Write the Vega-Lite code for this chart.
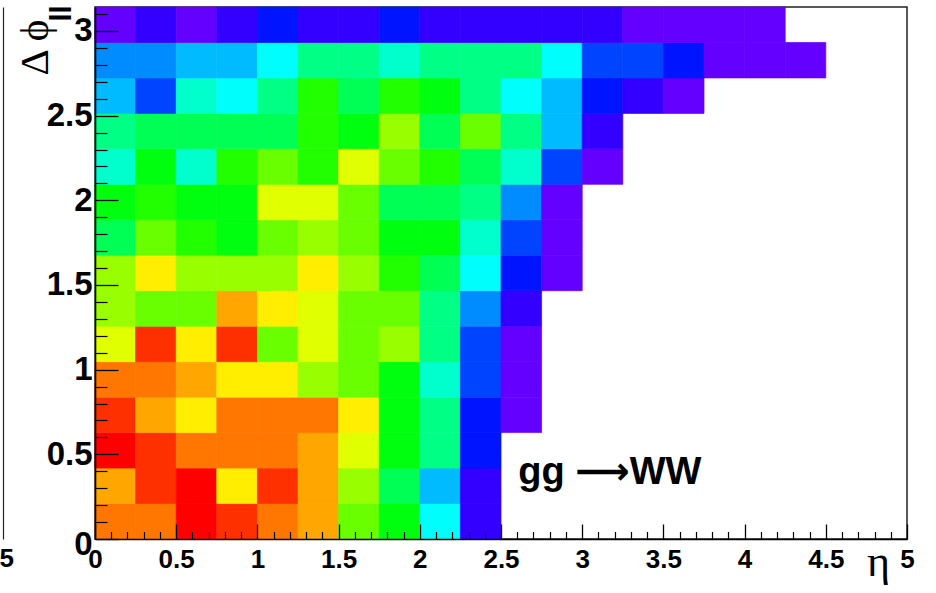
{
  "$schema": "https://vega.github.io/schema/vega-lite/v6.json",
  "width": 812,
  "height": 532,
  "autosize": "none",
  "padding": {"left": 95, "top": 7, "right": 29, "bottom": 54},
  "background": "white",
  "config": {"view": {"stroke": "#222", "strokeWidth": 1.5}, "axis": {"grid": false, "zindex": 1}},
  "datasets": {
    "cells": [
      {"eta":0,"eta2":0.25,"dphi":0,"dphi2":0.2094,"z":17},
      {"eta":0.25,"eta2":0.5,"dphi":0,"dphi2":0.2094,"z":17},
      {"eta":0.5,"eta2":0.75,"dphi":0,"dphi2":0.2094,"z":19},
      {"eta":0.75,"eta2":1,"dphi":0,"dphi2":0.2094,"z":18},
      {"eta":1,"eta2":1.25,"dphi":0,"dphi2":0.2094,"z":17},
      {"eta":1.25,"eta2":1.5,"dphi":0,"dphi2":0.2094,"z":16},
      {"eta":1.5,"eta2":1.75,"dphi":0,"dphi2":0.2094,"z":12},
      {"eta":1.75,"eta2":2,"dphi":0,"dphi2":0.2094,"z":10},
      {"eta":2,"eta2":2.25,"dphi":0,"dphi2":0.2094,"z":6},
      {"eta":2.25,"eta2":2.5,"dphi":0,"dphi2":0.2094,"z":1},

      {"eta":0,"eta2":0.25,"dphi":0.2094,"dphi2":0.4189,"z":16},
      {"eta":0.25,"eta2":0.5,"dphi":0.2094,"dphi2":0.4189,"z":18},
      {"eta":0.5,"eta2":0.75,"dphi":0.2094,"dphi2":0.4189,"z":19},
      {"eta":0.75,"eta2":1,"dphi":0.2094,"dphi2":0.4189,"z":15},
      {"eta":1,"eta2":1.25,"dphi":0.2094,"dphi2":0.4189,"z":18},
      {"eta":1.25,"eta2":1.5,"dphi":0.2094,"dphi2":0.4189,"z":16},
      {"eta":1.5,"eta2":1.75,"dphi":0.2094,"dphi2":0.4189,"z":13},
      {"eta":1.75,"eta2":2,"dphi":0.2094,"dphi2":0.4189,"z":9},
      {"eta":2,"eta2":2.25,"dphi":0.2094,"dphi2":0.4189,"z":5},
      {"eta":2.25,"eta2":2.5,"dphi":0.2094,"dphi2":0.4189,"z":1},

      {"eta":0,"eta2":0.25,"dphi":0.4189,"dphi2":0.6283,"z":19},
      {"eta":0.25,"eta2":0.5,"dphi":0.4189,"dphi2":0.6283,"z":18},
      {"eta":0.5,"eta2":0.75,"dphi":0.4189,"dphi2":0.6283,"z":17},
      {"eta":0.75,"eta2":1,"dphi":0.4189,"dphi2":0.6283,"z":17},
      {"eta":1,"eta2":1.25,"dphi":0.4189,"dphi2":0.6283,"z":17},
      {"eta":1.25,"eta2":1.5,"dphi":0.4189,"dphi2":0.6283,"z":16},
      {"eta":1.5,"eta2":1.75,"dphi":0.4189,"dphi2":0.6283,"z":14},
      {"eta":1.75,"eta2":2,"dphi":0.4189,"dphi2":0.6283,"z":10},
      {"eta":2,"eta2":2.25,"dphi":0.4189,"dphi2":0.6283,"z":8},
      {"eta":2.25,"eta2":2.5,"dphi":0.4189,"dphi2":0.6283,"z":2},

      {"eta":0,"eta2":0.25,"dphi":0.6283,"dphi2":0.8378,"z":18},
      {"eta":0.25,"eta2":0.5,"dphi":0.6283,"dphi2":0.8378,"z":16},
      {"eta":0.5,"eta2":0.75,"dphi":0.6283,"dphi2":0.8378,"z":15},
      {"eta":0.75,"eta2":1,"dphi":0.6283,"dphi2":0.8378,"z":17},
      {"eta":1,"eta2":1.25,"dphi":0.6283,"dphi2":0.8378,"z":17},
      {"eta":1.25,"eta2":1.5,"dphi":0.6283,"dphi2":0.8378,"z":17},
      {"eta":1.5,"eta2":1.75,"dphi":0.6283,"dphi2":0.8378,"z":15},
      {"eta":1.75,"eta2":2,"dphi":0.6283,"dphi2":0.8378,"z":10},
      {"eta":2,"eta2":2.25,"dphi":0.6283,"dphi2":0.8378,"z":8},
      {"eta":2.25,"eta2":2.5,"dphi":0.6283,"dphi2":0.8378,"z":2},
      {"eta":2.5,"eta2":2.75,"dphi":0.6283,"dphi2":0.8378,"z":0},

      {"eta":0,"eta2":0.25,"dphi":0.8378,"dphi2":1.0472,"z":17},
      {"eta":0.25,"eta2":0.5,"dphi":0.8378,"dphi2":1.0472,"z":17},
      {"eta":0.5,"eta2":0.75,"dphi":0.8378,"dphi2":1.0472,"z":16},
      {"eta":0.75,"eta2":1,"dphi":0.8378,"dphi2":1.0472,"z":15},
      {"eta":1,"eta2":1.25,"dphi":0.8378,"dphi2":1.0472,"z":15},
      {"eta":1.25,"eta2":1.5,"dphi":0.8378,"dphi2":1.0472,"z":13},
      {"eta":1.5,"eta2":1.75,"dphi":0.8378,"dphi2":1.0472,"z":12},
      {"eta":1.75,"eta2":2,"dphi":0.8378,"dphi2":1.0472,"z":10},
      {"eta":2,"eta2":2.25,"dphi":0.8378,"dphi2":1.0472,"z":7},
      {"eta":2.25,"eta2":2.5,"dphi":0.8378,"dphi2":1.0472,"z":3},
      {"eta":2.5,"eta2":2.75,"dphi":0.8378,"dphi2":1.0472,"z":0},

      {"eta":0,"eta2":0.25,"dphi":1.0472,"dphi2":1.2566,"z":14},
      {"eta":0.25,"eta2":0.5,"dphi":1.0472,"dphi2":1.2566,"z":18},
      {"eta":0.5,"eta2":0.75,"dphi":1.0472,"dphi2":1.2566,"z":15},
      {"eta":0.75,"eta2":1,"dphi":1.0472,"dphi2":1.2566,"z":18},
      {"eta":1,"eta2":1.25,"dphi":1.0472,"dphi2":1.2566,"z":12},
      {"eta":1.25,"eta2":1.5,"dphi":1.0472,"dphi2":1.2566,"z":14},
      {"eta":1.5,"eta2":1.75,"dphi":1.0472,"dphi2":1.2566,"z":12},
      {"eta":1.75,"eta2":2,"dphi":1.0472,"dphi2":1.2566,"z":13},
      {"eta":2,"eta2":2.25,"dphi":1.0472,"dphi2":1.2566,"z":8},
      {"eta":2.25,"eta2":2.5,"dphi":1.0472,"dphi2":1.2566,"z":3},
      {"eta":2.5,"eta2":2.75,"dphi":1.0472,"dphi2":1.2566,"z":0},

      {"eta":0,"eta2":0.25,"dphi":1.2566,"dphi2":1.4661,"z":13},
      {"eta":0.25,"eta2":0.5,"dphi":1.2566,"dphi2":1.4661,"z":12},
      {"eta":0.5,"eta2":0.75,"dphi":1.2566,"dphi2":1.4661,"z":12},
      {"eta":0.75,"eta2":1,"dphi":1.2566,"dphi2":1.4661,"z":16},
      {"eta":1,"eta2":1.25,"dphi":1.2566,"dphi2":1.4661,"z":15},
      {"eta":1.25,"eta2":1.5,"dphi":1.2566,"dphi2":1.4661,"z":14},
      {"eta":1.5,"eta2":1.75,"dphi":1.2566,"dphi2":1.4661,"z":12},
      {"eta":1.75,"eta2":2,"dphi":1.2566,"dphi2":1.4661,"z":12},
      {"eta":2,"eta2":2.25,"dphi":1.2566,"dphi2":1.4661,"z":8},
      {"eta":2.25,"eta2":2.5,"dphi":1.2566,"dphi2":1.4661,"z":4},
      {"eta":2.5,"eta2":2.75,"dphi":1.2566,"dphi2":1.4661,"z":1},

      {"eta":0,"eta2":0.25,"dphi":1.4661,"dphi2":1.6755,"z":13},
      {"eta":0.25,"eta2":0.5,"dphi":1.4661,"dphi2":1.6755,"z":15},
      {"eta":0.5,"eta2":0.75,"dphi":1.4661,"dphi2":1.6755,"z":13},
      {"eta":0.75,"eta2":1,"dphi":1.4661,"dphi2":1.6755,"z":13},
      {"eta":1,"eta2":1.25,"dphi":1.4661,"dphi2":1.6755,"z":13},
      {"eta":1.25,"eta2":1.5,"dphi":1.4661,"dphi2":1.6755,"z":15},
      {"eta":1.5,"eta2":1.75,"dphi":1.4661,"dphi2":1.6755,"z":13},
      {"eta":1.75,"eta2":2,"dphi":1.4661,"dphi2":1.6755,"z":11},
      {"eta":2,"eta2":2.25,"dphi":1.4661,"dphi2":1.6755,"z":9},
      {"eta":2.25,"eta2":2.5,"dphi":1.4661,"dphi2":1.6755,"z":6},
      {"eta":2.5,"eta2":2.75,"dphi":1.4661,"dphi2":1.6755,"z":2},
      {"eta":2.75,"eta2":3,"dphi":1.4661,"dphi2":1.6755,"z":0},

      {"eta":0,"eta2":0.25,"dphi":1.6755,"dphi2":1.885,"z":9},
      {"eta":0.25,"eta2":0.5,"dphi":1.6755,"dphi2":1.885,"z":12},
      {"eta":0.5,"eta2":0.75,"dphi":1.6755,"dphi2":1.885,"z":11},
      {"eta":0.75,"eta2":1,"dphi":1.6755,"dphi2":1.885,"z":10},
      {"eta":1,"eta2":1.25,"dphi":1.6755,"dphi2":1.885,"z":12},
      {"eta":1.25,"eta2":1.5,"dphi":1.6755,"dphi2":1.885,"z":13},
      {"eta":1.5,"eta2":1.75,"dphi":1.6755,"dphi2":1.885,"z":12},
      {"eta":1.75,"eta2":2,"dphi":1.6755,"dphi2":1.885,"z":10},
      {"eta":2,"eta2":2.25,"dphi":1.6755,"dphi2":1.885,"z":10},
      {"eta":2.25,"eta2":2.5,"dphi":1.6755,"dphi2":1.885,"z":7},
      {"eta":2.5,"eta2":2.75,"dphi":1.6755,"dphi2":1.885,"z":3},
      {"eta":2.75,"eta2":3,"dphi":1.6755,"dphi2":1.885,"z":0},

      {"eta":0,"eta2":0.25,"dphi":1.885,"dphi2":2.0944,"z":10},
      {"eta":0.25,"eta2":0.5,"dphi":1.885,"dphi2":2.0944,"z":11},
      {"eta":0.5,"eta2":0.75,"dphi":1.885,"dphi2":2.0944,"z":10},
      {"eta":0.75,"eta2":1,"dphi":1.885,"dphi2":2.0944,"z":10},
      {"eta":1,"eta2":1.25,"dphi":1.885,"dphi2":2.0944,"z":14},
      {"eta":1.25,"eta2":1.5,"dphi":1.885,"dphi2":2.0944,"z":14},
      {"eta":1.5,"eta2":1.75,"dphi":1.885,"dphi2":2.0944,"z":12},
      {"eta":1.75,"eta2":2,"dphi":1.885,"dphi2":2.0944,"z":9},
      {"eta":2,"eta2":2.25,"dphi":1.885,"dphi2":2.0944,"z":9},
      {"eta":2.25,"eta2":2.5,"dphi":1.885,"dphi2":2.0944,"z":8},
      {"eta":2.5,"eta2":2.75,"dphi":1.885,"dphi2":2.0944,"z":4},
      {"eta":2.75,"eta2":3,"dphi":1.885,"dphi2":2.0944,"z":0},

      {"eta":0,"eta2":0.25,"dphi":2.0944,"dphi2":2.3038,"z":7},
      {"eta":0.25,"eta2":0.5,"dphi":2.0944,"dphi2":2.3038,"z":10},
      {"eta":0.5,"eta2":0.75,"dphi":2.0944,"dphi2":2.3038,"z":7},
      {"eta":0.75,"eta2":1,"dphi":2.0944,"dphi2":2.3038,"z":11},
      {"eta":1,"eta2":1.25,"dphi":2.0944,"dphi2":2.3038,"z":12},
      {"eta":1.25,"eta2":1.5,"dphi":2.0944,"dphi2":2.3038,"z":11},
      {"eta":1.5,"eta2":1.75,"dphi":2.0944,"dphi2":2.3038,"z":14},
      {"eta":1.75,"eta2":2,"dphi":2.0944,"dphi2":2.3038,"z":12},
      {"eta":2,"eta2":2.25,"dphi":2.0944,"dphi2":2.3038,"z":11},
      {"eta":2.25,"eta2":2.5,"dphi":2.0944,"dphi2":2.3038,"z":9},
      {"eta":2.5,"eta2":2.75,"dphi":2.0944,"dphi2":2.3038,"z":7},
      {"eta":2.75,"eta2":3,"dphi":2.0944,"dphi2":2.3038,"z":3},
      {"eta":3,"eta2":3.25,"dphi":2.0944,"dphi2":2.3038,"z":0},

      {"eta":0,"eta2":0.25,"dphi":2.3038,"dphi2":2.5133,"z":8},
      {"eta":0.25,"eta2":0.5,"dphi":2.3038,"dphi2":2.5133,"z":9},
      {"eta":0.5,"eta2":0.75,"dphi":2.3038,"dphi2":2.5133,"z":9},
      {"eta":0.75,"eta2":1,"dphi":2.3038,"dphi2":2.5133,"z":9},
      {"eta":1,"eta2":1.25,"dphi":2.3038,"dphi2":2.5133,"z":9},
      {"eta":1.25,"eta2":1.5,"dphi":2.3038,"dphi2":2.5133,"z":11},
      {"eta":1.5,"eta2":1.75,"dphi":2.3038,"dphi2":2.5133,"z":10},
      {"eta":1.75,"eta2":2,"dphi":2.3038,"dphi2":2.5133,"z":13},
      {"eta":2,"eta2":2.25,"dphi":2.3038,"dphi2":2.5133,"z":9},
      {"eta":2.25,"eta2":2.5,"dphi":2.3038,"dphi2":2.5133,"z":12},
      {"eta":2.5,"eta2":2.75,"dphi":2.3038,"dphi2":2.5133,"z":8},
      {"eta":2.75,"eta2":3,"dphi":2.3038,"dphi2":2.5133,"z":5},
      {"eta":3,"eta2":3.25,"dphi":2.3038,"dphi2":2.5133,"z":1},

      {"eta":0,"eta2":0.25,"dphi":2.5133,"dphi2":2.7227,"z":5},
      {"eta":0.25,"eta2":0.5,"dphi":2.5133,"dphi2":2.7227,"z":3},
      {"eta":0.5,"eta2":0.75,"dphi":2.5133,"dphi2":2.7227,"z":7},
      {"eta":0.75,"eta2":1,"dphi":2.5133,"dphi2":2.7227,"z":6},
      {"eta":1,"eta2":1.25,"dphi":2.5133,"dphi2":2.7227,"z":8},
      {"eta":1.25,"eta2":1.5,"dphi":2.5133,"dphi2":2.7227,"z":11},
      {"eta":1.5,"eta2":1.75,"dphi":2.5133,"dphi2":2.7227,"z":9},
      {"eta":1.75,"eta2":2,"dphi":2.5133,"dphi2":2.7227,"z":11},
      {"eta":2,"eta2":2.25,"dphi":2.5133,"dphi2":2.7227,"z":10},
      {"eta":2.25,"eta2":2.5,"dphi":2.5133,"dphi2":2.7227,"z":8},
      {"eta":2.5,"eta2":2.75,"dphi":2.5133,"dphi2":2.7227,"z":6},
      {"eta":2.75,"eta2":3,"dphi":2.5133,"dphi2":2.7227,"z":5},
      {"eta":3,"eta2":3.25,"dphi":2.5133,"dphi2":2.7227,"z":2},
      {"eta":3.25,"eta2":3.5,"dphi":2.5133,"dphi2":2.7227,"z":1},
      {"eta":3.5,"eta2":3.75,"dphi":2.5133,"dphi2":2.7227,"z":0},

      {"eta":0,"eta2":0.25,"dphi":2.7227,"dphi2":2.9322,"z":4},
      {"eta":0.25,"eta2":0.5,"dphi":2.7227,"dphi2":2.9322,"z":4},
      {"eta":0.5,"eta2":0.75,"dphi":2.7227,"dphi2":2.9322,"z":5},
      {"eta":0.75,"eta2":1,"dphi":2.7227,"dphi2":2.9322,"z":5},
      {"eta":1,"eta2":1.25,"dphi":2.7227,"dphi2":2.9322,"z":6},
      {"eta":1.25,"eta2":1.5,"dphi":2.7227,"dphi2":2.9322,"z":8},
      {"eta":1.5,"eta2":1.75,"dphi":2.7227,"dphi2":2.9322,"z":8},
      {"eta":1.75,"eta2":2,"dphi":2.7227,"dphi2":2.9322,"z":7},
      {"eta":2,"eta2":2.25,"dphi":2.7227,"dphi2":2.9322,"z":8},
      {"eta":2.25,"eta2":2.5,"dphi":2.7227,"dphi2":2.9322,"z":8},
      {"eta":2.5,"eta2":2.75,"dphi":2.7227,"dphi2":2.9322,"z":8},
      {"eta":2.75,"eta2":3,"dphi":2.7227,"dphi2":2.9322,"z":6},
      {"eta":3,"eta2":3.25,"dphi":2.7227,"dphi2":2.9322,"z":3},
      {"eta":3.25,"eta2":3.5,"dphi":2.7227,"dphi2":2.9322,"z":3},
      {"eta":3.5,"eta2":3.75,"dphi":2.7227,"dphi2":2.9322,"z":2},
      {"eta":3.75,"eta2":4,"dphi":2.7227,"dphi2":2.9322,"z":0},
      {"eta":4,"eta2":4.25,"dphi":2.7227,"dphi2":2.9322,"z":0},
      {"eta":4.25,"eta2":4.5,"dphi":2.7227,"dphi2":2.9322,"z":0},

      {"eta":0,"eta2":0.25,"dphi":2.9322,"dphi2":3.1416,"z":0},
      {"eta":0.25,"eta2":0.5,"dphi":2.9322,"dphi2":3.1416,"z":1},
      {"eta":0.5,"eta2":0.75,"dphi":2.9322,"dphi2":3.1416,"z":0},
      {"eta":0.75,"eta2":1,"dphi":2.9322,"dphi2":3.1416,"z":1},
      {"eta":1,"eta2":1.25,"dphi":2.9322,"dphi2":3.1416,"z":2},
      {"eta":1.25,"eta2":1.5,"dphi":2.9322,"dphi2":3.1416,"z":1},
      {"eta":1.5,"eta2":1.75,"dphi":2.9322,"dphi2":3.1416,"z":1},
      {"eta":1.75,"eta2":2,"dphi":2.9322,"dphi2":3.1416,"z":2},
      {"eta":2,"eta2":2.25,"dphi":2.9322,"dphi2":3.1416,"z":1},
      {"eta":2.25,"eta2":2.5,"dphi":2.9322,"dphi2":3.1416,"z":1},
      {"eta":2.5,"eta2":2.75,"dphi":2.9322,"dphi2":3.1416,"z":1},
      {"eta":2.75,"eta2":3,"dphi":2.9322,"dphi2":3.1416,"z":1},
      {"eta":3,"eta2":3.25,"dphi":2.9322,"dphi2":3.1416,"z":1},
      {"eta":3.25,"eta2":3.5,"dphi":2.9322,"dphi2":3.1416,"z":0},
      {"eta":3.5,"eta2":3.75,"dphi":2.9322,"dphi2":3.1416,"z":0},
      {"eta":3.75,"eta2":4,"dphi":2.9322,"dphi2":3.1416,"z":0},
      {"eta":4,"eta2":4.25,"dphi":2.9322,"dphi2":3.1416,"z":0}
    ],
    "note": [{"eta": 2.606, "dphi": 0.327, "text": "gg ⟶WW"}]
  },
  "layer": [
    {
      "data": {"name": "cells"},
      "mark": {"type": "rect", "strokeWidth": 0.7},
      "encoding": {
        "x": {
          "field": "eta", "type": "quantitative",
          "scale": {"domain": [0, 5], "nice": false, "zero": false},
          "axis": {
            "orient": "bottom", "grid": false, "zindex": 1,
            "values": [0, 0.5, 1, 1.5, 2, 2.5, 3, 3.5, 4, 4.5, 5],
            "format": "~g",
            "labelFont": "Liberation Sans", "labelFontWeight": "bold", "labelFontSize": 26, "labelColor": "black",
            "labelPadding": 22, "labelFlush": false, "labelOverlap": false,
            "tickSize": -15, "tickColor": "black", "tickWidth": 1.3,
            "domainColor": "black", "domainWidth": 1.6,
            "title": "η", "titleFont": "Liberation Serif", "titleFontWeight": "normal", "titleFontSize": 44, "titleColor": "black",
            "titleX": 783, "titleY": 36, "titleAlign": "center", "titleBaseline": "alphabetic"
          }
        },
        "x2": {"field": "eta2"},
        "y": {
          "field": "dphi", "type": "quantitative",
          "scale": {"domain": [0, 3.1416], "nice": false, "zero": false},
          "axis": {
            "orient": "left", "grid": false, "zindex": 1,
            "values": [0, 0.5, 1, 1.5, 2, 2.5, 3],
            "format": "~g",
            "labelFont": "Liberation Sans", "labelFontWeight": "bold", "labelFontSize": 33, "labelColor": "black",
            "labelPadding": 26, "labelOverlap": false,
            "labelOffset": {"condition": {"test": "datum.value == 0", "value": 5}, "value": 0},
            "tickSize": -23, "tickColor": "black", "tickWidth": 1.3,
            "domainColor": "black", "domainWidth": 1.6,
            "title": "Δ ϕ", "titleFont": "Liberation Serif, DejaVu Serif", "titleFontWeight": "normal", "titleFontSize": 41, "titleColor": "black",
            "titleAngle": 270, "titleX": -48, "titleY": 68, "titleAlign": "left", "titleBaseline": "alphabetic"
          }
        },
        "y2": {"field": "dphi2"},
        "color": {
          "field": "z", "type": "quantitative",
          "scale": {
            "type": "threshold",
            "domain": [0.5, 1.5, 2.5, 3.5, 4.5, 5.5, 6.5, 7.5, 8.5, 9.5, 10.5, 11.5, 12.5, 13.5, 14.5, 15.5, 16.5, 17.5, 18.5],
            "range": ["#6300FF", "#3300FF", "#0014FF", "#0044FF", "#008BFF", "#00BBFF", "#00FFFC", "#00FFCC", "#00FF85", "#00FF55", "#00FF0E", "#22FF00", "#69FF00", "#99FF00", "#E0FF00", "#FFEE00", "#FFA700", "#FF7700", "#FF3000", "#FF0000"]
          },
          "legend": null
        },
        "stroke": {
          "field": "z", "type": "quantitative",
          "scale": {
            "type": "threshold",
            "domain": [0.5, 1.5, 2.5, 3.5, 4.5, 5.5, 6.5, 7.5, 8.5, 9.5, 10.5, 11.5, 12.5, 13.5, 14.5, 15.5, 16.5, 17.5, 18.5],
            "range": ["#6300FF", "#3300FF", "#0014FF", "#0044FF", "#008BFF", "#00BBFF", "#00FFFC", "#00FFCC", "#00FF85", "#00FF55", "#00FF0E", "#22FF00", "#69FF00", "#99FF00", "#E0FF00", "#FFEE00", "#FFA700", "#FF7700", "#FF3000", "#FF0000"]
          },
          "legend": null
        }
      }
    },
    {
      "data": {"name": "note"},
      "mark": {"type": "text", "font": "Liberation Sans, DejaVu Sans", "fontWeight": "bold", "fontSize": 38, "align": "left", "baseline": "alphabetic", "color": "black"},
      "encoding": {
        "x": {
          "field": "eta", "type": "quantitative",
          "scale": {"domain": [0, 5], "nice": false, "zero": false},
          "axis": {
            "orient": "bottom", "grid": false, "zindex": 1,
            "values": [0.1, 0.2, 0.3, 0.4, 0.6, 0.7, 0.8, 0.9, 1.1, 1.2, 1.3, 1.4, 1.6, 1.7, 1.8, 1.9, 2.1, 2.2, 2.3, 2.4, 2.6, 2.7, 2.8, 2.9, 3.1, 3.2, 3.3, 3.4, 3.6, 3.7, 3.8, 3.9, 4.1, 4.2, 4.3, 4.4, 4.6, 4.7, 4.8, 4.9],
            "labels": false, "domain": false,
            "tickSize": -7.5, "tickColor": "black", "tickWidth": 1.2,
            "title": null
          }
        },
        "y": {
          "field": "dphi", "type": "quantitative",
          "scale": {"domain": [0, 3.1416], "nice": false, "zero": false},
          "axis": {
            "orient": "left", "grid": false, "zindex": 1,
            "values": [0.1, 0.2, 0.3, 0.4, 0.6, 0.7, 0.8, 0.9, 1.1, 1.2, 1.3, 1.4, 1.6, 1.7, 1.8, 1.9, 2.1, 2.2, 2.3, 2.4, 2.6, 2.7, 2.8, 2.9, 3.1],
            "labels": false, "domain": false,
            "tickSize": -12, "tickColor": "black", "tickWidth": 1.2,
            "title": "ll", "titleFont": "Liberation Sans", "titleFontWeight": "bold", "titleFontSize": 29, "titleColor": "black",
            "titleAngle": 270, "titleX": -25, "titleY": 14, "titleAlign": "left", "titleBaseline": "alphabetic"
          }
        },
        "text": {"field": "text"}
      }
    },
    {
      "data": {"name": "note"},
      "mark": {"type": "text", "opacity": 0},
      "encoding": {
        "y": {
          "field": "dphi", "type": "quantitative",
          "scale": {"domain": [0, 3.1416], "nice": false, "zero": false},
          "axis": {
            "orient": "left", "offset": 92, "grid": false, "zindex": 1,
            "values": [0], "labelExpr": "'5'",
            "ticks": false, "tickSize": 0,
            "labelAlign": "left", "labelBaseline": "top", "labelPadding": 4, "labelOffset": 6,
            "labelFont": "Liberation Sans", "labelFontWeight": "bold", "labelFontSize": 26, "labelColor": "black",
            "domainColor": "#222", "domainWidth": 1.2,
            "title": null
          }
        },
        "text": {"value": ""}
      }
    }
  ],
  "resolve": {"axis": {"x": "independent", "y": "independent"}}
}
